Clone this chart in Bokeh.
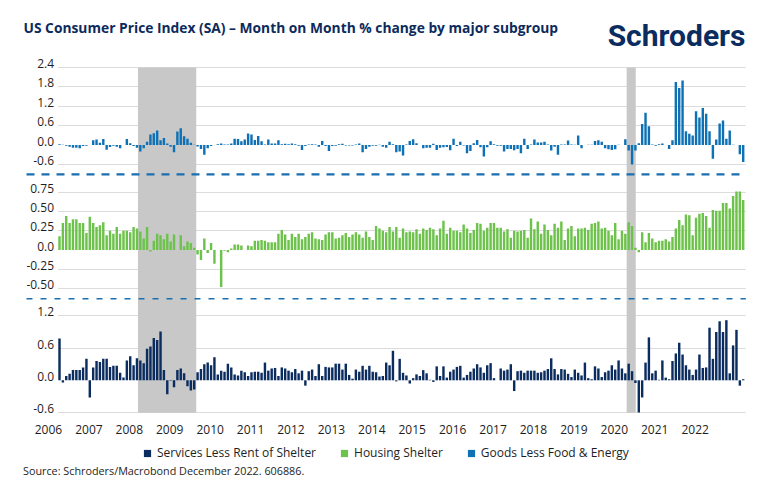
from bokeh.plotting import figure
from bokeh.models import (Range1d, LinearAxis, FixedTicker, Grid, BoxAnnotation,
                          Label, Legend, LegendItem)
from bokeh.embed import file_html
from bokeh.resources import INLINE

# ---------------- data ----------------
title_text = "US Consumer Price Index (SA) \u2013 Month on Month % change by major subgroup"
source_text = "Source: Schroders/Macrobond December 2022. 606886."
logo_text = "Schroders"
series_names = ["Services Less Rent of Shelter", "Housing Shelter", "Goods Less Food & Energy"]
years = list(range(2006, 2023))
months = list(range(204))  # monthly, Jan 2006 .. Dec 2022 (month index)

goods = [
    0.03, 0.01, -0.02, -0.05, -0.08, -0.08, -0.10, -0.03, -0.02, 0.00, 0.15, 0.17,   # 2006
    0.07, 0.19, -0.14, -0.06, -0.02, -0.05, -0.10, 0.00, 0.19, 0.06, -0.03, -0.08,   # 2007
    -0.20, -0.10, 0.10, 0.33, 0.37, 0.45, 0.15, 0.22, 0.05, -0.05, -0.22, 0.42,      # 2008
    0.52, 0.27, 0.20, 0.07, 0.01, -0.04, -0.12, -0.30, -0.10, -0.03, 0.00, 0.03,     # 2009
    0.05, 0.02, 0.02, 0.05, 0.20, 0.19, 0.12, 0.17, 0.36, 0.33, 0.16, 0.28,          # 2010
    0.12, 0.02, 0.17, 0.05, 0.05, 0.15, 0.03, 0.04, 0.03, 0.05, 0.03, -0.02,         # 2011
    -0.15, -0.03, 0.02, 0.03, 0.02, -0.05, 0.13, -0.03, -0.18, -0.03, -0.02, 0.03,   # 2012
    0.04, -0.01, -0.01, -0.01, 0.02, 0.05, -0.22, -0.12, -0.05, -0.02, -0.02, 0.01,  # 2013
    -0.05, -0.08, 0.10, 0.03, -0.22, -0.20, -0.32, 0.02, 0.13, 0.18, 0.06, 0.00,     # 2014
    -0.10, -0.08, -0.08, 0.04, -0.15, -0.08, -0.07, -0.06, -0.16, 0.20, -0.03, 0.10, # 2015
    -0.01, -0.25, -0.18, 0.06, 0.16, -0.07, -0.35, -0.07, 0.12, 0.03, -0.02, -0.02,  # 2016
    -0.20, -0.12, -0.12, -0.16, -0.12, -0.25, 0.20, -0.12, 0.02, 0.17, 0.08, 0.08,   # 2017
    0.10, 0.02, -0.17, -0.05, -0.30, 0.02, 0.02, 0.14, 0.02, 0.01, 0.30, -0.10,      # 2018
    0.00, 0.01, 0.01, 0.13, 0.15, 0.10, -0.10, -0.13, -0.15, -0.13, 0.01, 0.00,      # 2019
    0.18, -0.17, -0.60, -0.17, 0.06, 0.65, 1.00, 0.58, 0.02, -0.02, 0.03, 0.05,      # 2020
    0.00, -0.12, 0.15, 1.95, 1.77, 2.00, 0.43, 0.35, 0.30, 1.05, 0.85, 1.15,         # 2021
    0.97, 0.43, -0.42, 0.17, 0.67, 0.76, 0.20, 0.45, 0.01, 0.00, -0.28, -0.52,       # 2022
]

shelter = [
    0.18, 0.35, 0.44, 0.35, 0.40, 0.40, 0.35, 0.35, 0.22, 0.43, 0.35, 0.30,
    0.32, 0.36, 0.19, 0.25, 0.21, 0.30, 0.21, 0.25, 0.25, 0.23, 0.30, 0.28,
    0.24, 0.15, 0.30, -0.02, 0.12, 0.21, 0.19, 0.14, 0.21, 0.11, 0.20, 0.00,
    0.19, 0.05, 0.11, 0.09, 0.03, -0.06, -0.13, 0.15, -0.04, 0.09, -0.18, 0.00,
    -0.48, -0.01, -0.03, 0.02, 0.07, 0.07, 0.06, 0.00, 0.06, 0.05, 0.12, 0.12,
    0.13, 0.12, 0.10, 0.10, 0.10, 0.21, 0.26, 0.20, 0.13, 0.21, 0.17, 0.21,
    0.14, 0.17, 0.21, 0.23, 0.15, 0.14, 0.13, 0.20, 0.23, 0.23, 0.15, 0.16,
    0.19, 0.22, 0.17, 0.20, 0.23, 0.20, 0.16, 0.24, 0.17, 0.13, 0.31, 0.28,
    0.25, 0.23, 0.30, 0.24, 0.30, 0.16, 0.28, 0.23, 0.24, 0.23, 0.27, 0.21,
    0.28, 0.26, 0.29, 0.27, 0.19, 0.28, 0.38, 0.21, 0.29, 0.25, 0.25, 0.23,
    0.33, 0.28, 0.22, 0.26, 0.35, 0.34, 0.25, 0.29, 0.35, 0.35, 0.29, 0.29,
    0.24, 0.27, 0.16, 0.25, 0.24, 0.25, 0.26, 0.16, 0.41, 0.27, 0.37, 0.21,
    0.33, 0.26, 0.19, 0.34, 0.29, 0.37, 0.13, 0.28, 0.31, 0.18, 0.28, 0.28,
    0.29, 0.26, 0.34, 0.35, 0.37, 0.28, 0.29, 0.25, 0.19, 0.35, 0.14, 0.25,
    0.21, 0.36, 0.31, 0.03, -0.03, 0.23, 0.10, 0.22, 0.15, 0.10, 0.12, 0.12,
    0.14, 0.11, 0.17, 0.28, 0.39, 0.32, 0.46, 0.45, 0.19, 0.42, 0.47, 0.48,
    0.44, 0.29, 0.52, 0.51, 0.51, 0.61, 0.61, 0.54, 0.70, 0.76, 0.76, 0.65,
]

services = [
    0.78, -0.04, 0.08, 0.12, 0.19, 0.19, 0.19, 0.24, 0.40, -0.32, 0.24, 0.36,
    0.34, 0.40, 0.40, 0.25, 0.27, 0.27, 0.14, 0.05, 0.37, 0.45, 0.28, 0.41,
    0.37, 0.32, 0.59, 0.63, 0.79, 0.75, 0.91, 0.19, -0.26, -0.01, -0.13, 0.19,
    0.22, 0.13, -0.11, -0.19, -0.17, 0.15, 0.21, 0.30, 0.33, 0.28, 0.43, 0.11,
    0.18, 0.16, 0.31, 0.24, 0.11, 0.09, 0.18, 0.15, 0.08, 0.15, 0.16, 0.16,
    0.14, 0.33, 0.18, 0.22, 0.23, 0.08, 0.24, 0.22, 0.18, 0.15, 0.21, 0.13,
    0.18, -0.10, 0.17, 0.20, 0.08, 0.30, 0.08, 0.25, 0.24, 0.24, 0.31, 0.31,
    0.20, 0.31, 0.10, 0.03, 0.20, 0.16, 0.27, 0.20, 0.27, 0.16, 0.15, 0.07,
    0.08, 0.33, 0.28, 0.55, -0.02, 0.40, 0.14, 0.09, -0.06, 0.04, 0.11, 0.08,
    0.19, 0.13, 0.01, -0.03, 0.26, 0.08, 0.26, 0.05, 0.16, 0.20, 0.25, 0.27,
    0.05, 0.10, 0.16, 0.22, 0.30, 0.24, 0.14, 0.28, 0.32, 0.04, 0.00, 0.22,
    0.18, 0.20, 0.30, -0.20, 0.17, 0.18, 0.14, 0.18, 0.18, 0.18, 0.14, 0.15,
    0.18, 0.21, 0.41, 0.21, 0.11, 0.21, 0.20, 0.12, 0.06, 0.20, 0.14, 0.09,
    0.33, 0.04, 0.02, 0.26, 0.22, 0.06, 0.15, 0.18, 0.28, 0.20, 0.37, 0.22,
    0.13, 0.31, 0.17, -0.05, -0.65, -0.32, 0.33, 0.80, 0.13, 0.18, 0.01, 0.37,
    0.05, 0.02, 0.36, 0.50, 0.70, 0.48, 0.28, 0.20, 0.10, 0.20, 0.48, 0.23,
    0.24, 0.98, 0.40, 0.90, 1.10, 0.90, 1.12, 0.13, 0.65, 0.94, -0.10, 0.02,
]

recessions = [(23.3, 40.6), (168.4, 171.1)]  # shaded periods, month index

top_ticks = [2.4, 1.8, 1.2, 0.6, 0.0, -0.6]
top_labels = ["2.4", "1.8", "1.2", "0.6", "0.0", "-0.6"]
mid_ticks = [0.75, 0.5, 0.25, 0.0, -0.25, -0.5]
mid_labels = ["0.75", "0.50", "0.25", "0.0", "-0.25", "-0.50"]
bot_ticks = [1.2, 0.6, 0.0, -0.6]
bot_labels = ["1.2", "0.6", "0.0", "-0.6"]

# ---------------- styling / layout ----------------
NAVY, GREEN, BLUE = "#0b2c5f", "#6cc24a", "#0f71b5"
SHADE, DASH, GRIDC = "#c8c8c8", "#1a6fb0", "#dcdcdc"
TXT, TITLEC = "#1e1e1e", "#0d2a5c"
FONT = "Open Sans"

W, H = 770, 496
BAR0, STEP = 59.0, 3.368          # first bar centre (px), px per month
PL, PR, PT, PB = 57.5, 745.3, 67.0, 412.3   # plotting area edges (px)

def xd(px):
    return (px - BAR0) / STEP

# panel: (zero line px, px per unit)
panels = {"top": (144.6, 32.33), "mid": (249.5, 77.04), "bot": (379.8, 53.67)}
bot_min = bot_ticks[-1]

p = figure(width=W, height=H, x_range=Range1d(xd(0), xd(W)), y_range=Range1d(H, 0),
           x_axis_type=None, y_axis_type=None, output_backend="svg",
           toolbar_location=None, min_border=0, min_border_left=0, min_border_right=0,
           min_border_top=0, min_border_bottom=0,
           outline_line_color=None, background_fill_color="white",
           border_fill_color="white")
p.title.visible = False

p.extra_y_ranges = {k: Range1d((z - H) / s, z / s) for k, (z, s) in panels.items()}

# grids (no zero line)
for name, ticks in (("top", top_ticks), ("mid", mid_ticks), ("bot", bot_ticks)):
    g = Grid(dimension=1, y_range_name=name,
             ticker=FixedTicker(ticks=[t for t in ticks if t != 0.0]),
             grid_line_color=GRIDC, grid_line_width=1)
    p.add_layout(g)

# white masks: grid lines only span the plotting area
for a, b in ((xd(-5), xd(PL)), (xd(PR), xd(W + 5))):
    p.add_layout(BoxAnnotation(left=a, right=b, top=-5, bottom=H + 5,
                               fill_color="white", fill_alpha=1, line_color=None,
                               level="underlay"))

# recession shading
for a, b in recessions:
    p.add_layout(BoxAnnotation(left=a, right=b, top=PT, bottom=PB, fill_color=SHADE,
                               fill_alpha=1, line_color=None, level="underlay"))

# bars
p.vbar(x=months, top=goods, width=0.72, y_range_name="top", fill_color=BLUE, line_color=None)
p.vbar(x=months, top=shelter, width=0.72, y_range_name="mid", fill_color=GREEN, line_color=None)
p.vbar(x=months, top=[max(v, bot_min) for v in services], width=0.72, y_range_name="bot",
       fill_color=NAVY, line_color=None)

# panel separators
p.segment(x0=[xd(26)], x1=[xd(PR)], y0=[173.8], y1=[173.8], line_color=DASH,
          line_width=2.2, line_dash="8 7")
p.segment(x0=[xd(26)], x1=[xd(PR)], y0=[298.3], y1=[298.3], line_color=DASH,
          line_width=1.5, line_dash="6 8")

# y axis (labels sit just above their grid line)
ypos, yover = [], {}
for name, ticks, labs in (("top", top_ticks, top_labels), ("mid", mid_ticks, mid_labels),
                          ("bot", bot_ticks, bot_labels)):
    z, s = panels[name]
    for t, l in zip(ticks, labs):
        pos = round(z - t * s - 4, 2)
        ypos.append(pos)
        yover[pos] = l
yax = LinearAxis(ticker=FixedTicker(ticks=ypos), major_label_overrides=yover,
                 fixed_location=xd(PL),
                 axis_line_color=None, major_tick_line_color=None, minor_tick_line_color=None,
                 major_tick_out=0, major_tick_in=0, minor_tick_out=0, minor_tick_in=0,
                 major_label_standoff=4, major_label_text_font=FONT,
                 major_label_text_font_size="12px", major_label_text_color=TXT)
p.add_layout(yax, "left")

# x axis (year labels)
xpos = [round(12 * k - 3.27, 2) for k in range(len(years))]
xover = {t: str(y) for t, y in zip(xpos, years)}
xax = LinearAxis(ticker=FixedTicker(ticks=xpos), major_label_overrides=xover,
                 fixed_location=PB,
                 axis_line_color=None, major_tick_line_color=None, minor_tick_line_color=None,
                 major_tick_out=0, major_tick_in=0, minor_tick_out=0, minor_tick_in=0,
                 major_label_standoff=12, major_label_text_font=FONT,
                 major_label_text_font_size="12px", major_label_text_color=TXT)
p.add_layout(xax, "below")

# legend (square swatches; proxy renderers hold one point outside the view)
proxies = []
for col in (NAVY, GREEN, BLUE):
    proxies.append(p.scatter(x=[xd(-100)], y=[-100], marker="square", size=7,
                             fill_color=col, line_color=None))
legend = Legend(items=[LegendItem(label=n, renderers=[r]) for n, r in zip(series_names, proxies)],
                orientation="horizontal", location=(138, 34.5), glyph_width=18, glyph_height=18,
                label_height=18, label_standoff=1, spacing=19, padding=0, margin=0,
                border_line_color=None, background_fill_alpha=0,
                label_text_font=FONT, label_text_font_size="12px", label_text_color=TXT)
p.add_layout(legend)

# title, logo, source (y = visual centre line)
p.add_layout(Label(x=xd(23), y=26.5, text=title_text, text_font=FONT, text_font_style="bold",
                   text_font_size="13.8px", text_color=TITLEC, text_baseline="middle"))
p.add_layout(Label(x=xd(745), y=34.5, text=logo_text, text_font="Roboto", text_font_style="bold",
                   text_font_size="30px", text_color=NAVY, text_baseline="middle",
                   text_align="right"))
p.add_layout(Label(x=xd(22.5), y=470, text=source_text, text_font=FONT,
                   text_font_size="10.8px", text_color=TXT, text_baseline="middle"))

open("out.html", "w").write(file_html(p, INLINE))
